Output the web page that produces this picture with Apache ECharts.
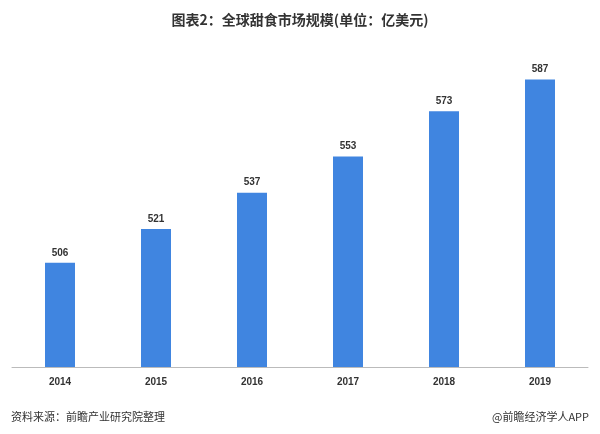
<!DOCTYPE html>
<html><head><meta charset="utf-8">
<script src="https://cdn.jsdelivr.net/npm/echarts@6/dist/echarts.min.js"></script>
<style>html,body{margin:0;padding:0;background:#fff}#c{width:600px;height:434px}</style>
</head><body><div id="c"></div>
<script>
const categories = ['2014','2015','2016','2017','2018','2019'];
const values = [506, 521, 537, 553, 573, 587];
const chart = echarts.init(document.getElementById('c'));
chart.setOption({
  animation:false,
  title:[
    {text:'图表2：全球甜食市场规模(单位：亿美元)',left:'center',top:8,textStyle:{fontSize:14,fontWeight:'bold',color:'#333',fontFamily:'Noto Sans CJK SC'}},
    {text:'资料来源：前瞻产业研究院整理',left:6,top:406,textStyle:{fontSize:11,fontWeight:'normal',color:'#333',fontFamily:'Noto Sans CJK SC'}},
    {text:'@前瞻经济学人APP',right:6,top:406,textStyle:{fontSize:11,fontWeight:'normal',color:'#333',fontFamily:'Noto Sans CJK SC'}}
  ],
  grid:{left:12,right:12,top:50,bottom:67},
  xAxis:{type:'category',data:categories,axisTick:{show:false},
    axisLine:{lineStyle:{color:'#bbb'}},
    axisLabel:{fontSize:10,fontWeight:'bold',color:'#333',margin:10}},
  yAxis:{type:'value',min:460,max:600,show:false,splitLine:{show:false}},
  series:[{type:'bar',data:values,barWidth:30,itemStyle:{color:'#4085e0'},
    label:{show:true,position:'top',fontSize:10,fontWeight:'bold',color:'#333'}}]
});
</script></body></html>
